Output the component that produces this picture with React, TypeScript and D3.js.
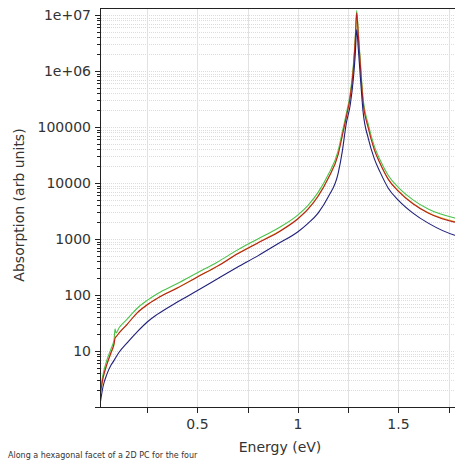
import React, { useEffect, useRef } from 'react';
import * as d3 from 'd3';

// energies (eV) shared by all series
const energy = [
  0.015, 0.03, 0.05, 0.07, 0.085, 0.09, 0.095, 0.11, 0.15, 0.2, 0.25, 0.3, 0.4, 0.5, 0.6, 0.7, 0.8, 0.9,
  1.0, 1.05, 1.1, 1.15, 1.2, 1.22, 1.24, 1.26, 1.275, 1.285, 1.292, 1.3, 1.31, 1.323, 1.35, 1.38, 1.408, 1.45,
  1.5, 1.572, 1.65, 1.78, 1.82,
];

const greenVals = [
  1.8, 3.8, 7, 11, 16, 25, 21, 26, 37, 58, 80, 105, 160, 250, 390, 640, 1000, 1550,
  2700, 4000, 6800, 14000, 38000, 80000, 170000, 400000, 1200000, 4000000, 12000000, 5000000, 1500000, 350000, 110000, 45000, 26000, 13500,
  8300, 5000, 3400, 2370, 2200,
];

const yellowVals = [
  1.5, 3.2, 5.8, 9.2, 13, 18, 18, 21, 30, 48, 67, 88, 135, 212, 330, 550, 860, 1330,
  2330, 3450, 5900, 12200, 33000, 70000, 150000, 350000, 1050000, 3500000, 9500000, 4300000, 1300000, 300000, 95000, 39000, 22500, 11600,
  7200, 4300, 2900, 2050, 1900,
];

const redVals = [
  1.6, 3.3, 5.9, 9.4, 13.5, 17, 18, 21, 30, 48, 67, 87, 133, 210, 328, 545, 850, 1310,
  2300, 3400, 5800, 12000, 32500, 69000, 150000, 350000, 1050000, 3600000, 11000000, 4400000, 1300000, 300000, 95000, 39000, 22500, 11500,
  7100, 4250, 2880, 2000, 1880,
];

const blueVals = [
  1.1, 2.3, 3.9, 5.6, 6.8, 7.3, 7.8, 9.5, 14, 22, 33, 45, 75, 120, 195, 315, 500, 820,
  1350, 1900, 2900, 5600, 15000, 36000, 115000, 250000, 700000, 2000000, 5500000, 2500000, 800000, 200000, 62000, 27000, 15800, 8000,
  4900, 2900, 1900, 1170, 1080,
];

const seriesColors = ['#4cc24c', '#d4c030', '#b82020', '#20207a'];

const yLabels = ['10', '100', '1000', '10000', '100000', '1e+06', '1e+07'];
const xLabels = ['0.5', '1', '1.5'];

const App = () => {
  const ref = useRef<HTMLDivElement>(null);

  useEffect(() => {
    const W = 455;
    const H = 461;
    const left = 100;
    const top = 8;
    const bottom = 407;
    const right = 470;
    const font = 'DejaVu Sans, sans-serif';

    d3.select(ref.current).selectAll('*').remove();

    const svg = d3
      .select(ref.current)
      .append('svg')
      .attr('width', W)
      .attr('height', H)
      .style('position', 'absolute')
      .style('left', '0px')
      .style('top', '0px')
      .style('background', '#fff');

    const x = d3.scaleLinear().domain([0.015, (right - 97) / 201]).range([left, right]);
    const y = d3.scaleLog().domain([1, Math.pow(10, 399 / 56)]).range([bottom, top]);

    // grid
    const minorVals: number[] = [];
    for (let k = 0; k < 7; k++) {
      for (let m = 1; m <= 9; m++) minorVals.push(m * Math.pow(10, k));
    }
    minorVals.push(1e7);

    svg
      .append('g')
      .selectAll('line')
      .data(minorVals.filter((v) => v > 1))
      .enter()
      .append('line')
      .attr('x1', left + 1)
      .attr('x2', W)
      .attr('y1', (d) => Math.round(y(d)) + 0.5)
      .attr('y2', (d) => Math.round(y(d)) + 0.5)
      .attr('stroke', '#dcdcdc')
      .attr('stroke-dasharray', '1,1');

    const xTicks = d3.range(0.25, 1.8, 0.25);
    svg
      .append('g')
      .selectAll('line')
      .data(xTicks)
      .enter()
      .append('line')
      .attr('x1', (d) => Math.round(x(d)) + 0.5)
      .attr('x2', (d) => Math.round(x(d)) + 0.5)
      .attr('y1', top)
      .attr('y2', bottom)
      .attr('stroke', '#e2e2e2');

    // curves
    const clip = svg.append('clipPath').attr('id', 'plotclip');
    clip.append('rect').attr('x', left).attr('y', top).attr('width', W - left).attr('height', bottom - top);

    const line = d3
      .line<number>()
      .x((_, i) => x(energy[i]))
      .y((d) => y(d))
      .curve(d3.curveMonotoneX);

    const allSeries = [greenVals, yellowVals, redVals, blueVals];
    svg
      .append('g')
      .attr('clip-path', 'url(#plotclip)')
      .selectAll('path')
      .data(allSeries)
      .enter()
      .append('path')
      .attr('d', (d) => line(d))
      .attr('fill', 'none')
      .attr('stroke', (_, i) => seriesColors[i])
      .attr('stroke-width', 1.1);

    // frame
    svg.append('line').attr('x1', left).attr('x2', W).attr('y1', top + 0.5).attr('y2', top + 0.5).attr('stroke', '#222');
    svg.append('line').attr('x1', left + 0.5).attr('x2', left + 0.5).attr('y1', top).attr('y2', bottom + 1).attr('stroke', '#222');
    svg.append('line').attr('x1', left).attr('x2', W).attr('y1', bottom + 0.5).attr('y2', bottom + 0.5).attr('stroke', '#222');

    // y ticks
    svg
      .append('g')
      .selectAll('line')
      .data(minorVals)
      .enter()
      .append('line')
      .attr('x1', (d) => (Math.abs(Math.log10(d) - Math.round(Math.log10(d))) < 1e-9 ? left - 5 : left - 3))
      .attr('x2', left)
      .attr('y1', (d) => Math.round(y(d)) + 0.5)
      .attr('y2', (d) => Math.round(y(d)) + 0.5)
      .attr('stroke', '#222');

    svg
      .append('g')
      .selectAll('text')
      .data(yLabels)
      .enter()
      .append('text')
      .attr('x', left - 9)
      .attr('y', (_, i) => y(Math.pow(10, i + 1)))
      .attr('dy', '0.35em')
      .attr('text-anchor', 'end')
      .style('font-family', font)
      .style('font-size', '14px')
      .style('fill', '#333')
      .text((d) => d);

    // x ticks
    svg
      .append('g')
      .selectAll('line')
      .data(xTicks)
      .enter()
      .append('line')
      .attr('x1', (d) => Math.round(x(d)) + 0.5)
      .attr('x2', (d) => Math.round(x(d)) + 0.5)
      .attr('y1', bottom)
      .attr('y2', bottom + 6)
      .attr('stroke', '#222');

    svg
      .append('g')
      .selectAll('text')
      .data(xLabels)
      .enter()
      .append('text')
      .attr('x', (d) => x(+d))
      .attr('y', 429)
      .attr('text-anchor', 'middle')
      .style('font-family', font)
      .style('font-size', '14px')
      .style('fill', '#333')
      .text((d) => d);

    // axis titles
    svg
      .append('text')
      .attr('x', 280)
      .attr('y', 452)
      .attr('text-anchor', 'middle')
      .style('font-family', font)
      .style('font-size', '14px')
      .style('fill', '#333')
      .text('Energy (eV)');

    svg
      .append('text')
      .attr('transform', 'translate(24,205) rotate(-90)')
      .attr('text-anchor', 'middle')
      .style('font-family', font)
      .style('font-size', '14px')
      .style('fill', '#333')
      .text('Absorption (arb units)');

    // caption under the chart
    svg
      .append('text')
      .attr('x', 8)
      .attr('y', 458)
      .style('font-family', font)
      .style('font-size', '8px')
      .style('fill', '#333')
      .text('Along a hexagonal facet of a 2D PC for the four');
  }, []);

  return <div ref={ref} />;
};

export default App;
